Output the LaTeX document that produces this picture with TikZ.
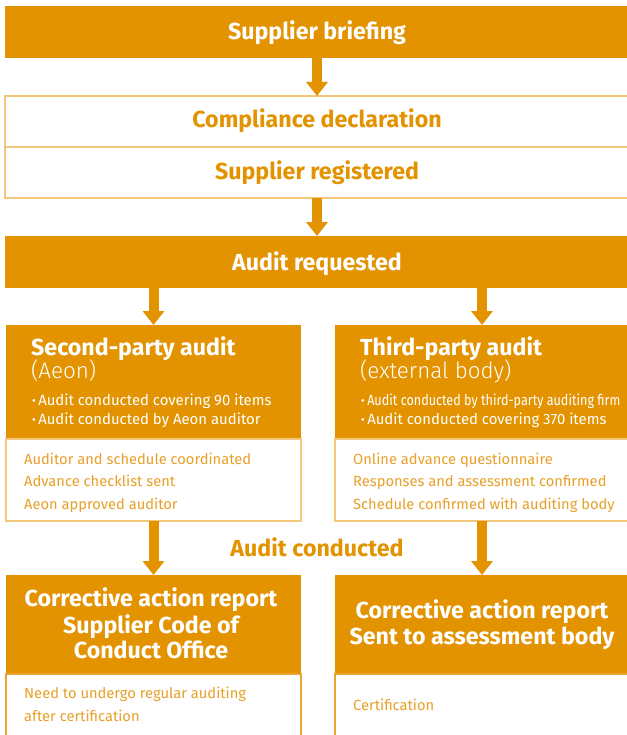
\documentclass[tikz,border=0pt]{standalone}
\usepackage{fontspec}
\setmainfont{Fira Sans}
\newfontfamily\lightfont{Fira Sans Light}
\usepackage{graphicx}
\usetikzlibrary{arrows.meta}
\definecolor{aeon}{RGB}{227,147,0}
\definecolor{lightline}{RGB}{243,200,125}
\definecolor{midline}{RGB}{234,164,52}
\definecolor{txt}{RGB}{232,160,40}
\tikzset{
  obox/.style={rectangle, fill=aeon, draw=none, inner sep=0pt, outer sep=0pt},
  lbox/.style={rectangle, fill=white, draw=lightline, line width=1.2pt, inner sep=0pt, outer sep=0pt},
  mbox/.style={rectangle, fill=white, draw=midline, line width=1.2pt, inner sep=0pt, outer sep=0pt},
  flow/.style={draw=aeon, line width=10pt, -{Triangle[width=21pt,length=14pt]}},
  wtitle/.style={inner sep=0pt, text=white, font=\bfseries\fontsize{23.2}{27}\selectfont},
  otitle/.style={inner sep=0pt, text=aeon, font=\bfseries\fontsize{23.2}{27}\selectfont},
  wsub/.style={inner sep=0pt, text=white, font=\lightfont\fontsize{22.4}{26}\selectfont},
  wbul/.style={inner sep=0pt, text=white, font=\fontsize{14.9}{17}\selectfont},
  otxt/.style={inner sep=0pt, text=txt, font=\fontsize{14.7}{17}\selectfont},
}
\begin{document}
\begin{tikzpicture}[x=1pt,y=-1pt]
\useasboundingbox (0,0) rectangle (626,735);
% top chain
\node[obox, minimum width=625pt, minimum height=52pt] (sb) at (317.5,32) {};
\node[lbox, minimum width=625pt, minimum height=51pt] (cd) at (317.5,121.5) {};
\node[lbox, minimum width=625pt, minimum height=51pt] (sr) at (317.5,172.5) {};
\node[obox, minimum width=625pt, minimum height=52pt] (ar) at (317.5,262) {};
\node[wtitle, anchor=base] (tsb) at (317,40) {Supplier briefing};
\node[otitle, anchor=base] (tcd) at (317,128) {Compliance declaration};
\node[otitle, anchor=base] (tsr) at (317,180) {Supplier registered};
\node[wtitle, anchor=base] (tar) at (317,270) {Audit requested};
% second-party
\node[obox, minimum width=295pt, minimum height=114pt] (sp) at (153.5,382) {};
\node[lbox, minimum width=295pt, minimum height=82pt] (spw) at (153.5,480) {};
% third-party
\node[obox, minimum width=294pt, minimum height=114pt] (tp) at (482,382) {};
\node[lbox, minimum width=294pt, minimum height=82pt] (tpw) at (482,480) {};
\node[wtitle, anchor=base west] (tsp) at (31,355) {Second-party audit};
\node[wsub, anchor=base west] (tsp2) at (31,378) {(Aeon)};
\node[wbul, anchor=base west] (b1) at (32,405) {\textbf{·}\,Audit conducted covering 90 items};
\node[wbul, anchor=base west] (b2) at (32,424) {\textbf{·}\,Audit conducted by Aeon auditor};
\node[otxt, anchor=base west] (s1) at (24,464) {Auditor and schedule coordinated};
\node[otxt, anchor=base west] (s2) at (24,486) {Advance checklist sent};
\node[otxt, anchor=base west] (s3) at (24,509) {Aeon approved auditor};
\node[wtitle, anchor=base west] (ttp) at (360,355) {Third-party audit};
\node[wsub, anchor=base west] (ttp2) at (360,378) {(external body)};
\node[wbul, anchor=base west] (c1) at (361,405) {\textbf{·}\,\scalebox{0.845}[1]{Audit conducted by third-party auditing firm}};
\node[wbul, anchor=base west] (c2) at (361,424) {\textbf{·}\,Audit conducted covering 370 items};
\node[otxt, anchor=base west] (t1) at (353,464) {Online advance questionnaire};
\node[otxt, anchor=base west] (t2) at (353,486) {Responses and assessment confirmed};
\node[otxt, anchor=base west] (t3) at (353,509) {Schedule confirmed with auditing body};
% bottom
\node[obox, minimum width=295pt, minimum height=99pt] (cl) at (153.5,624.5) {};
\node[mbox, minimum width=295pt, minimum height=72pt] (clw) at (153.5,710) {};
\node[obox, minimum width=294pt, minimum height=99pt] (cr) at (482,624.5) {};
\node[mbox, minimum width=294pt, minimum height=72pt] (crw) at (482,710) {};
\node[wtitle, anchor=base] (l1) at (151,606) {Corrective action report};
\node[wtitle, anchor=base] (l2) at (151,633) {Supplier Code of};
\node[wtitle, anchor=base] (l3) at (151,658) {Conduct Office};
\node[wtitle, anchor=base] (r1) at (482,618) {Corrective action report};
\node[wtitle, anchor=base] (r2) at (482,644) {Sent to assessment body};
\node[otxt, anchor=base west] (n1) at (24,698) {Need to undergo regular auditing};
\node[otxt, anchor=base west] (n2) at (24,721) {after certification};
\node[otxt, anchor=base west] (n3) at (353,710) {Certification};
\node[otitle, anchor=base] (ac) at (317,556) {Audit conducted};
% arrows
\draw[flow] (sb.south -| tsb) -- (cd.north -| tsb);
\draw[flow] (sr.south -| tsb) -- (ar.north -| tsb);
\draw[flow] (ar.south -| sp.north) -- (sp.north);
\draw[flow] (ar.south -| tp.north) -- (tp.north);
\draw[flow] (spw.south) -- (cl.north);
\draw[flow] (tpw.south) -- (cr.north);
\end{tikzpicture}
\end{document}
